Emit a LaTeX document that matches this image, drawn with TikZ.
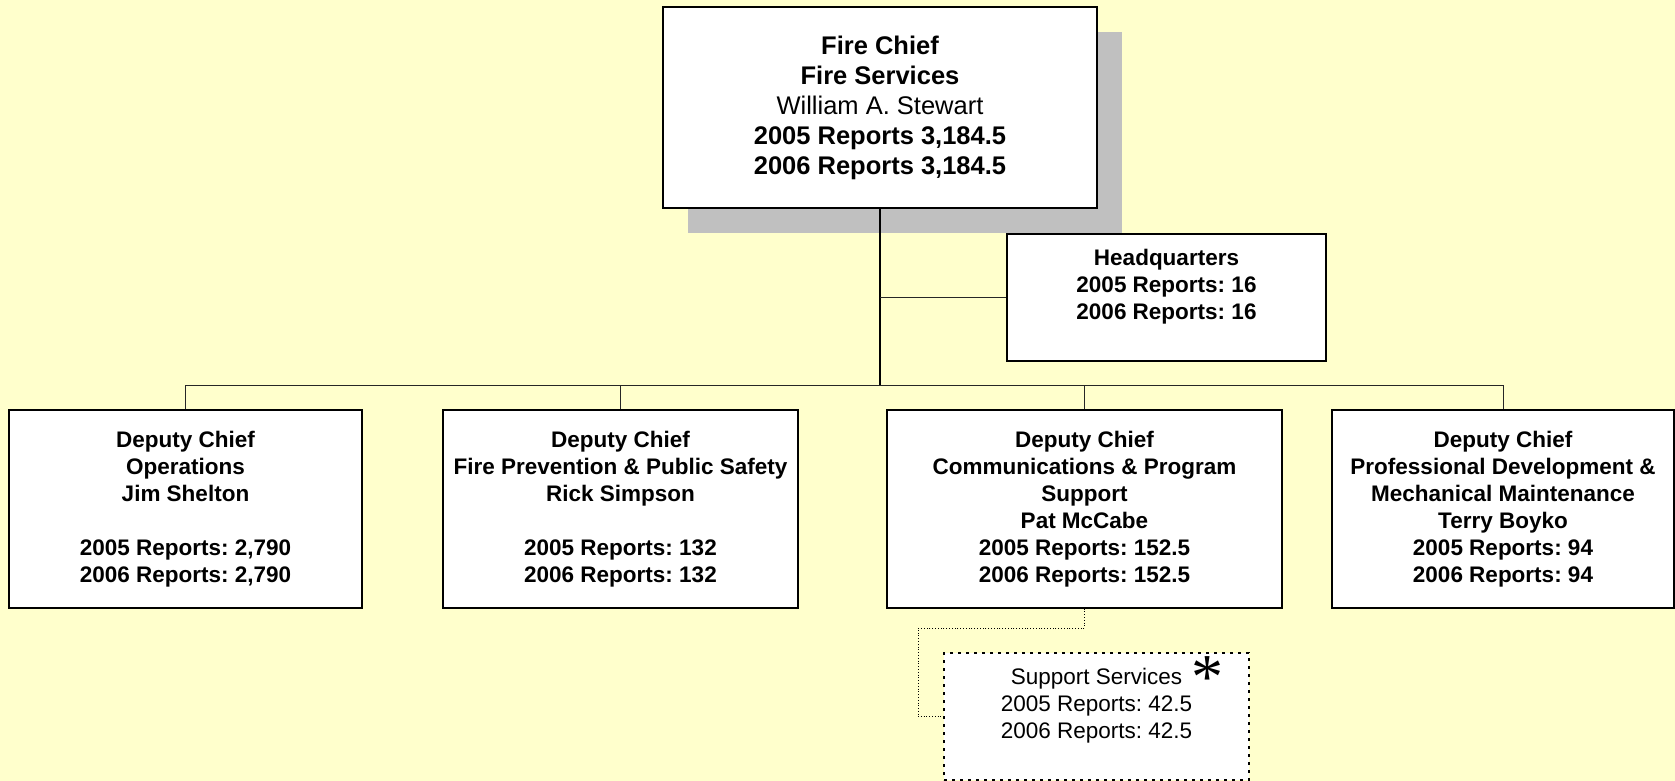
\documentclass[tikz,border=0pt]{standalone}
\usepackage{fontspec}
\setmainfont{Liberation Sans}
\newfontfamily\starfont{Liberation Serif}
\usetikzlibrary{shadows}
\frenchspacing
\definecolor{paper}{HTML}{FFFFCC}
\definecolor{shade}{HTML}{C0C0C0}
\tikzset{
	post/.style={draw, line width=1.3pt, fill=white, align=center, inner sep=0pt, font=\fontsize{22.5}{27}\selectfont\bfseries},
	deputy/.style={post, minimum height=198pt},
	bus/.style={line width=0.8pt, draw=black!85},
}
\begin{document}
\begin{tikzpicture}[x=1pt,y=-1pt]
	\fill[paper] (0,0) rectangle (1675,781);
	\useasboundingbox (0,0) rectangle (1675,781);
	
	% chief and headquarters
	\node[post, minimum width=434pt, minimum height=201pt, font=\fontsize{25.5}{30}\selectfont\bfseries, drop shadow={shadow xshift=25pt, shadow yshift=-25pt, fill=shade, opacity=1}] (chief) at (880,107.5) {Fire Chief\\Fire Services\\{\mdseries William A. Stewart}\\2005 Reports 3,184.5\\2006 Reports 3,184.5};
	\node[post, minimum width=319pt, minimum height=127pt] (hq) at (1166.5,297.5) {Headquarters\\2005 Reports: 16\\2006 Reports: 16\\\mbox{}};
	
	% deputies
	\node[deputy, minimum width=353pt] (ops) at (185.5,509) {Deputy Chief\\Operations\\Jim Shelton\\\mbox{}\\2005 Reports: 2,790\\2006 Reports: 2,790};
	\node[deputy, minimum width=355pt] (prev) at (620.5,509) {Deputy Chief\\Fire Prevention \& Public Safety\\Rick Simpson\\\mbox{}\\2005 Reports: 132\\2006 Reports: 132};
	\node[deputy, minimum width=395pt] (comm) at (1084.5,509) {Deputy Chief\\Communications \& Program\\Support\\Pat McCabe\\2005 Reports: 152.5\\2006 Reports: 152.5};
	\node[deputy, minimum width=342pt] (prof) at (1503,509) {Deputy Chief\\Professional Development \&\\Mechanical Maintenance\\Terry Boyko\\2005 Reports: 94\\2006 Reports: 94};
	
	% support services
	\node[post, minimum width=305pt, minimum height=127pt, line width=1.5pt, dash pattern=on 3pt off 5pt, font=\fontsize{22.5}{27}\selectfont] (supp) at (1096.5,716.5) {Support Services\\2005 Reports: 42.5\\2006 Reports: 42.5\\\mbox{}};
	\node[font=\starfont\fontsize{64}{64}\selectfont, anchor=base, inner sep=0pt] (star) at (1207,698) {*};
	
	\coordinate (hub) at (880,385);
	\draw[line width=1.3pt] (chief.south) -- (hub);
	\draw[bus] (chief.south |- hq.west) -- (hq.west);
	\draw[bus] (ops.north) -- (ops.north |- hub) -- (prof.north |- hub) -- (prof.north);
	\draw[bus] (prev.north) -- (prev.north |- hub);
	\draw[bus] (comm.north) -- (comm.north |- hub);
	\draw[dotted, line width=0.8pt] (comm.south) |- (918,628) |- (supp.west);
\end{tikzpicture}
\end{document}
